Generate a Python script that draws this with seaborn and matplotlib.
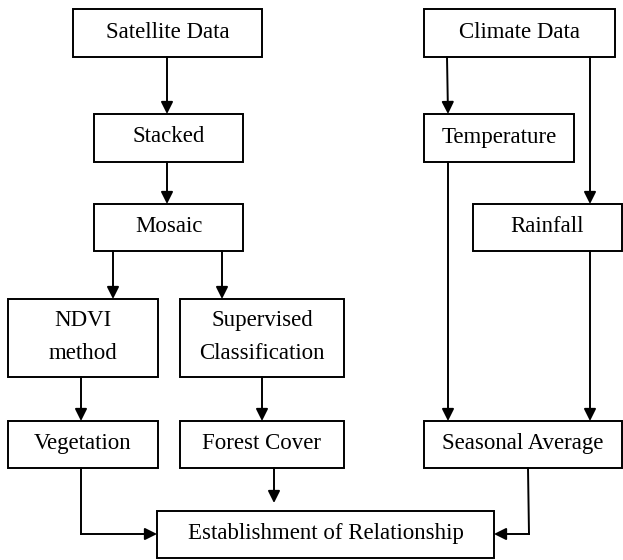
import matplotlib
matplotlib.use('Agg')
import matplotlib.pyplot as plt
from matplotlib.patches import Rectangle
import seaborn as sns

# nodes of the flow chart (label text)
labels = {
    'sat': 'Satellite Data',
    'stack': 'Stacked',
    'mosaic': 'Mosaic',
    'ndvi': 'NDVI\nmethod',
    'sup': 'Supervised\nClassification',
    'veg': 'Vegetation',
    'forest': 'Forest Cover',
    'clim': 'Climate Data',
    'temp': 'Temperature',
    'rain': 'Rainfall',
    'seas': 'Seasonal Average',
    'rel': 'Establishment of Relationship',
}

# links between nodes (source, target)
edges = [
    ('sat', 'stack'), ('stack', 'mosaic'), ('mosaic', 'ndvi'), ('mosaic', 'sup'),
    ('ndvi', 'veg'), ('sup', 'forest'), ('forest', 'rel'), ('veg', 'rel'),
    ('clim', 'temp'), ('clim', 'rain'), ('temp', 'seas'), ('rain', 'seas'),
    ('seas', 'rel'),
]

# layout in pixels: left, top, right, bottom
boxes = {
    'sat': (73, 9, 262, 57),
    'stack': (94, 114, 243, 162),
    'mosaic': (94, 204, 243, 251),
    'ndvi': (8, 299, 158, 377),
    'sup': (180, 299, 344, 377),
    'veg': (8, 421, 158, 468),
    'forest': (180, 421, 344, 468),
    'clim': (424, 9, 615, 57),
    'temp': (424, 114, 574, 162),
    'rain': (473, 204, 621.5, 251),
    'seas': (424, 421, 621.5, 468),
    'rel': (157, 511, 494, 558),
}

# routing of each link: list of points, last segment gets the arrow
routes = {
    ('sat', 'stack'): [(167, 57), (167, 114)],
    ('stack', 'mosaic'): [(167, 162), (167, 204)],
    ('mosaic', 'ndvi'): [(113, 251), (113, 299)],
    ('mosaic', 'sup'): [(222, 251), (222, 299)],
    ('ndvi', 'veg'): [(81, 377), (81, 421)],
    ('sup', 'forest'): [(262, 377), (262, 421)],
    ('forest', 'rel'): [(274, 468), (274, 503)],
    ('veg', 'rel'): [(81, 468), (81, 534), (157, 534)],
    ('clim', 'temp'): [(447, 57), (448, 114)],
    ('clim', 'rain'): [(590, 57), (590, 204)],
    ('temp', 'seas'): [(448, 162), (448, 421)],
    ('rain', 'seas'): [(590, 251), (590, 421)],
    ('seas', 'rel'): [(528, 468), (529, 534), (494, 534)],
}

sns.set_theme(style='white')
plt.rcParams['font.family'] = ['Liberation Serif', 'DejaVu Serif']

fig = plt.figure(figsize=(6.23, 5.6), dpi=100)
ax = fig.add_axes([0, 0, 1, 1])
ax.set_xlim(0, 623)
ax.set_ylim(560, 0)
ax.axis('off')

lw = 1.4
for key, text in labels.items():
    x0, y0, x1, y1 = boxes[key]
    ax.add_patch(Rectangle((x0, y0), x1 - x0, y1 - y0, fill=False,
                           edgecolor='black', linewidth=lw))
    ax.text((x0 + x1) / 2, (y0 + y1) / 2 - 1, text, ha='center', va='center',
            fontsize=16.5, color='black', linespacing=1.75)

for e in edges:
    pts = routes[e]
    if len(pts) > 2:
        xs = [p[0] for p in pts[:-1]]
        ys = [p[1] for p in pts[:-1]]
        ax.plot(xs, ys, color='black', linewidth=lw, solid_capstyle='projecting')
    ax.annotate('', xy=pts[-1], xytext=pts[-2],
                arrowprops=dict(arrowstyle='-|>', color='black', lw=lw,
                                mutation_scale=18, shrinkA=0, shrinkB=0))

fig.savefig('out.png', dpi=100)
